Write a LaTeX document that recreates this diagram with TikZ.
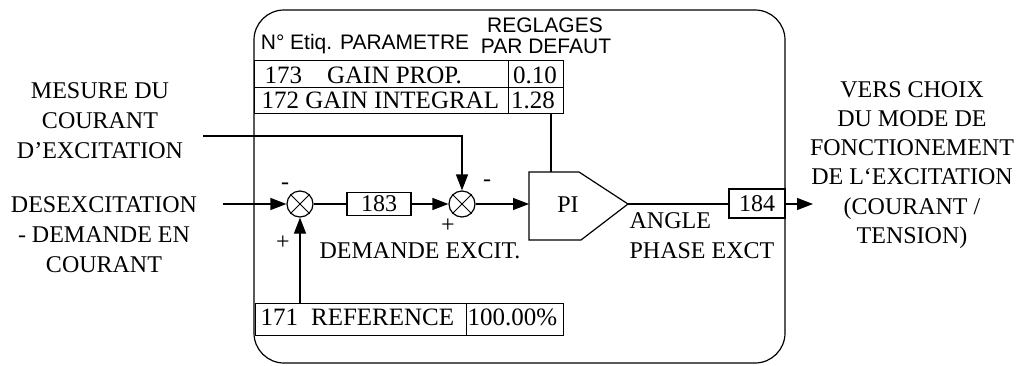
\documentclass[tikz,border=0pt]{standalone}
\usepackage{fontspec}
\setmainfont{Liberation Serif}
\newfontfamily\hdrfont{Liberation Sans}
\usetikzlibrary{arrows.meta}
\begin{document}
\begin{tikzpicture}[x=1pt,y=-1pt, line width=1.2pt,
  txt/.style={inner sep=0pt, font=\fontsize{24}{30}\selectfont},
  ttxt/.style={inner sep=0pt, font=\fontsize{25}{30}\selectfont},
  rtxt/.style={inner sep=0pt, font=\fontsize{24}{29.3}\selectfont},
  hdr/.style={inner sep=0pt, font=\hdrfont\fontsize{21}{24}\selectfont},
  cell/.style={draw, inner sep=0pt, anchor=north west},
  sumnode/.style={draw, circle, minimum size=26pt, inner sep=0pt},
  numbox/.style={draw, inner sep=0pt, font=\fontsize{24}{30}\selectfont},
  arr/.style={-{Triangle[length=16pt,width=12pt]}}]
\useasboundingbox (0,0) rectangle (1031,365);

% outer frame
\draw[rounded corners=30pt] (254,10) rectangle (785,363);

% header
\node[hdr, anchor=base] (hreg) at (545,32) {REGLAGES};
\node[hdr, anchor=base] (hpar) at (546,53) {PAR DEFAUT};
\node[hdr, anchor=base] (hnum) at (365,49) {N° Etiq. PARAMETRE};

% parameter table
\node[cell, minimum width=254pt, minimum height=27pt] (r1n) at (254,60) {};
\node[cell, minimum width=55pt, minimum height=27pt] (r1v) at (508,60) {};
\node[cell, minimum width=254pt, minimum height=26pt] (r2n) at (254,87) {};
\node[cell, minimum width=55pt, minimum height=26pt] (r2v) at (508,87) {};
\node[ttxt, anchor=base west] (t173) at (264,83) {173\hspace{25pt}GAIN PROP.};
\node[ttxt, anchor=base west] (t172) at (261,108) {172 GAIN INTEGRAL};
\node[ttxt, anchor=base] (v173) at (535,83) {0.10};
\node[ttxt, anchor=base] (v172) at (533,108) {1.28};

% reference row
\node[cell, minimum width=211pt, minimum height=32pt] (r3n) at (255,303) {};
\node[cell, minimum width=97pt, minimum height=32pt] (r3v) at (466,303) {};
\node[ttxt, anchor=base west] (t171) at (260,325) {171\hspace{13pt}REFERENCE};
\node[ttxt, anchor=base west] (v171) at (467,325) {100.00\%};

% summing junctions
\node[sumnode] (s1) at (300,204) {};
\draw[line width=1pt] (s1.45) -- (s1.225) (s1.135) -- (s1.315);
\node[sumnode] (s2) at (462,204) {};
\draw[line width=1pt] (s2.45) -- (s2.225) (s2.135) -- (s2.315);

% blocks
\node[numbox, minimum width=64pt, minimum height=23pt] (b183) at (379,204) {183};
\node[numbox, minimum width=56pt, minimum height=29pt] (b184) at (757,203.5) {184};

% PI block
\coordinate (piNW) at (529,172);
\coordinate (piNE) at (579,172);
\coordinate (piTip) at (628,204);
\coordinate (piSE) at (581,240);
\coordinate (piSW) at (529,240);
\coordinate (piIn) at (529,204);
\coordinate (piTop) at (551,172);
\draw (piNW) -- (piNE) -- (piTip) -- (piSE) -- (piSW) -- cycle;
\node[txt] (pi) at (568,205) {PI};

% signs
\node[txt] (m1) at (285,186) {-};
\node[txt] (p1) at (283,243) {+};
\node[txt] (m2) at (487,183) {-};
\node[txt] (p2) at (448,226) {+};

% free ends
\coordinate (inL) at (223,204);
\coordinate (mesL) at (203,136);
\coordinate (outR) at (813,204);

% connectors
\draw[arr] (inL) -- (s1);
\draw (s1) -- (b183);
\draw[arr] (b183) -- (s2);
\draw[arr] (s2) -- (piIn);
\draw (piTip) -- (b184.west |- piTip);
\draw[arr] (b184.east |- outR) -- (outR);
\draw[arr] (mesL) -| (s2);
\draw[arr] (s1 |- r3n.north) -- (s1);
\draw (piTop |- r2v.south) -- (piTop);

% labels (base anchor = last line baseline)
\node[txt, align=center, anchor=base] (lmes) at (100,158) {MESURE DU\\COURANT\\D’EXCITATION};
\node[txt, align=center, anchor=base] (ldes) at (104,272) {DESEXCITATION\\- DEMANDE EN\\COURANT};
\node[rtxt, align=center, anchor=base] (lout) at (912,243.5) {VERS CHOIX\\DU MODE DE\\FONCTIONEMENT\\DE L‘EXCITATION\\(COURANT /\\TENSION)};
\node[txt, anchor=base west] (ldem) at (319,258) {DEMANDE EXCIT.};
\node[txt, align=left, anchor=base west] (lang) at (629,258) {ANGLE\\PHASE EXCT};
\end{tikzpicture}
\end{document}
